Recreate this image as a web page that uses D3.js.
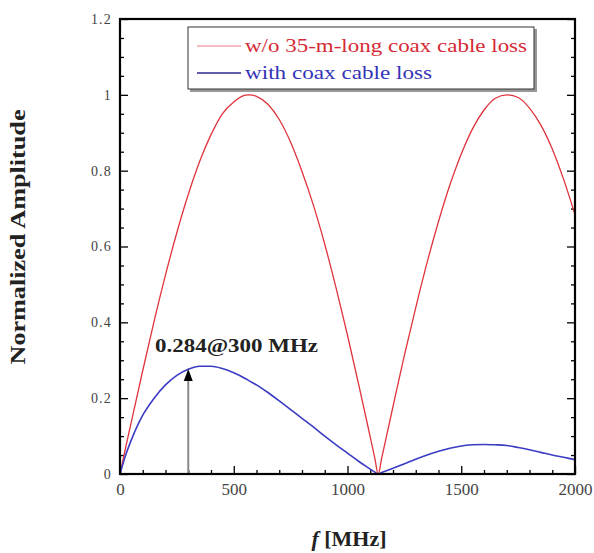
<!DOCTYPE html>
<meta charset="utf-8">
<style>
body { margin: 0; background: #fff; }
svg { font-family: "Liberation Serif", "DejaVu Serif", serif; }
.axis { font-family: "Liberation Serif", "DejaVu Serif", serif; }
.axis path { display: none; }
.axis line { stroke: #000; stroke-width: 1.3; }
.axis text { fill: #444; }
</style>
<body>
<script src="https://d3js.org/d3.v7.min.js"></script>
<script>

// frequency samples (MHz)
var freq = [0, 25, 50, 100, 150, 200, 250, 300, 350, 400, 450, 500, 550, 570, 600, 650, 700, 750, 800,
  850, 900, 950, 1000, 1050, 1100, 1120, 1135, 1150, 1200, 1250, 1300, 1350, 1400, 1450, 1500,
  1550, 1600, 1650, 1700, 1750, 1800, 1850, 1900, 1950, 2000];

// w/o 35-m-long coax cable loss
var noLoss = [0, 0.07, 0.138, 0.273, 0.403, 0.525, 0.637, 0.737, 0.824, 0.895, 0.95, 0.981, 0.999, 1.0, 0.996,
  0.975, 0.935, 0.875, 0.798, 0.709, 0.606, 0.49, 0.366, 0.234, 0.097, 0.042, 0, 0.041, 0.178, 0.313, 0.439,
  0.558, 0.666, 0.762, 0.844, 0.911, 0.96, 0.991, 1.0, 0.993, 0.965, 0.92, 0.857, 0.777, 0.684];

// with coax cable loss
var withLoss = [0, 0.05, 0.09, 0.155, 0.2, 0.235, 0.26, 0.276, 0.284, 0.284, 0.278, 0.267, 0.252, 0.245, 0.235,
  0.215, 0.193, 0.17, 0.147, 0.124, 0.1, 0.077, 0.055, 0.033, 0.013, 0.005, 0, 0.004, 0.015, 0.027, 0.039,
  0.05, 0.06, 0.068, 0.074, 0.077, 0.078, 0.077, 0.075, 0.07, 0.064, 0.057, 0.05, 0.044, 0.038];

var seriesNames = ["w/o 35-m-long coax cable loss", "with coax cable loss"];
var xTicks = [0, 500, 1000, 1500, 2000];
var yTicks = [0, 0.2, 0.4, 0.6, 0.8, 1, 1.2];
var peakF = 300, peakA = 0.284, peakLabel = "0.284@300 MHz";

var margin = {top: 19, right: 19, bottom: 79, left: 120},
    width = 594 - margin.left - margin.right,
    height = 553 - margin.top - margin.bottom;

var svg = d3.select("body").append("svg")
    .attr("width", 594)
    .attr("height", 553);

var g = svg.append("g")
    .attr("transform", "translate(" + margin.left + "," + margin.top + ")");

var x = d3.scaleLinear().domain([0, 2000]).range([0, width]);
var y = d3.scaleLinear().domain([0, 1.2]).range([height, 0]);

// minor ticks
var xMinor = d3.range(0, 2001, 100).filter(function(d) { return d % 500; });
var yMinor = d3.range(0, 24).map(function(i) { return i * 0.05; }).filter(function(d) { return Math.abs(d * 5 - Math.round(d * 5)) > 1e-6; });

g.append("g").attr("class", "axis")
    .attr("transform", "translate(0," + height + ")")
    .call(d3.axisBottom(x).tickValues(xMinor).tickFormat("").tickSize(-4));
g.append("g").attr("class", "axis")
    .call(d3.axisLeft(y).tickValues(yMinor).tickFormat("").tickSize(-4));
g.append("g").attr("class", "axis")
    .attr("transform", "translate(" + width + ",0)")
    .call(d3.axisRight(y).tickValues(yMinor).tickFormat("").tickSize(-4));
g.append("g").attr("class", "axis")
    .attr("transform", "translate(" + width + ",0)")
    .call(d3.axisRight(y).tickValues(yTicks).tickFormat("").tickSize(-8));

var xAxis = g.append("g").attr("class", "axis")
    .attr("transform", "translate(0," + height + ")")
    .call(d3.axisBottom(x).tickValues(xTicks).tickFormat(d3.format("d")).tickSize(-8).tickPadding(9));
xAxis.selectAll("text").style("font-size", "17px");

var yAxis = g.append("g").attr("class", "axis")
    .call(d3.axisLeft(y).tickValues(yTicks).tickFormat(function(d) { return String(d); }).tickSize(-8).tickPadding(8));
yAxis.selectAll("text").style("font-size", "14px").style("letter-spacing", "1.2px");

// curves
var pts = function(vals) { return freq.map(function(f, i) { return [f, vals[i]]; }); };
var line = d3.line()
    .x(function(d) { return x(d[0]); })
    .y(function(d) { return y(d[1]); })
    .curve(d3.curveMonotoneX);

g.append("path")
    .datum(pts(noLoss))
    .attr("fill", "none")
    .attr("stroke", "#e0333c")
    .attr("stroke-width", 1.3)
    .attr("d", line);

g.append("path")
    .datum(pts(withLoss))
    .attr("fill", "none")
    .attr("stroke", "#3b3bc4")
    .attr("stroke-width", 1.6)
    .attr("d", line);

// annotation arrow
g.append("line")
    .attr("x1", x(peakF)).attr("x2", x(peakF))
    .attr("y1", y(0)).attr("y2", y(0.262))
    .attr("stroke", "#8a8a8a")
    .attr("stroke-width", 2);
g.append("path")
    .attr("d", "M" + x(peakF) + "," + y(0.277) + "l-4.5,12h9z")
    .attr("fill", "#000");
g.append("text")
    .attr("x", 155 - margin.left)
    .attr("y", 352 - margin.top)
    .attr("textLength", 163)
    .attr("lengthAdjust", "spacingAndGlyphs")
    .style("font-size", "19px")
    .style("font-weight", "bold")
    .style("fill", "#222")
    .text(peakLabel);

// frame
g.append("rect")
    .attr("width", width).attr("height", height)
    .attr("fill", "none")
    .attr("stroke", "#000")
    .attr("stroke-width", 2.2);

// legend
var lg = svg.append("g");
lg.append("rect")
    .attr("x", 190).attr("y", 29).attr("width", 347).attr("height", 63)
    .attr("fill", "#999");
lg.append("rect")
    .attr("x", 188).attr("y", 27).attr("width", 346).attr("height", 62)
    .attr("fill", "#fff").attr("stroke", "#333").attr("stroke-width", 1);

var legendColors = ["#f0a6aa", "#2a2a90"];
var textColors = ["#d42a35", "#3434b8"];
var textLens = [282, 187];
seriesNames.forEach(function(name, i) {
  var yy = 46 + i * 27;
  lg.append("line")
      .attr("x1", 197).attr("x2", 241)
      .attr("y1", yy).attr("y2", yy)
      .attr("stroke", legendColors[i])
      .attr("stroke-width", 1.6);
  lg.append("text")
      .attr("x", 245).attr("y", yy + 6)
      .attr("textLength", textLens[i])
      .attr("lengthAdjust", "spacingAndGlyphs")
      .style("font-size", "18px")
      .style("fill", textColors[i])
      .text(name);
});

// axis titles
svg.append("text")
    .attr("transform", "translate(25,237) rotate(-90)")
    .attr("text-anchor", "middle")
    .attr("textLength", 255)
    .attr("lengthAdjust", "spacingAndGlyphs")
    .style("font-size", "20px")
    .style("font-weight", "bold")
    .style("fill", "#222")
    .text("Normalized Amplitude");

var xt = svg.append("text")
    .attr("x", 349).attr("y", 546)
    .attr("text-anchor", "middle")
    .style("font-size", "22px")
    .style("font-weight", "bold")
    .style("fill", "#222");
xt.append("tspan").style("font-style", "italic").text("f");
xt.append("tspan").text(" [MHz]");

</script>
</body>
